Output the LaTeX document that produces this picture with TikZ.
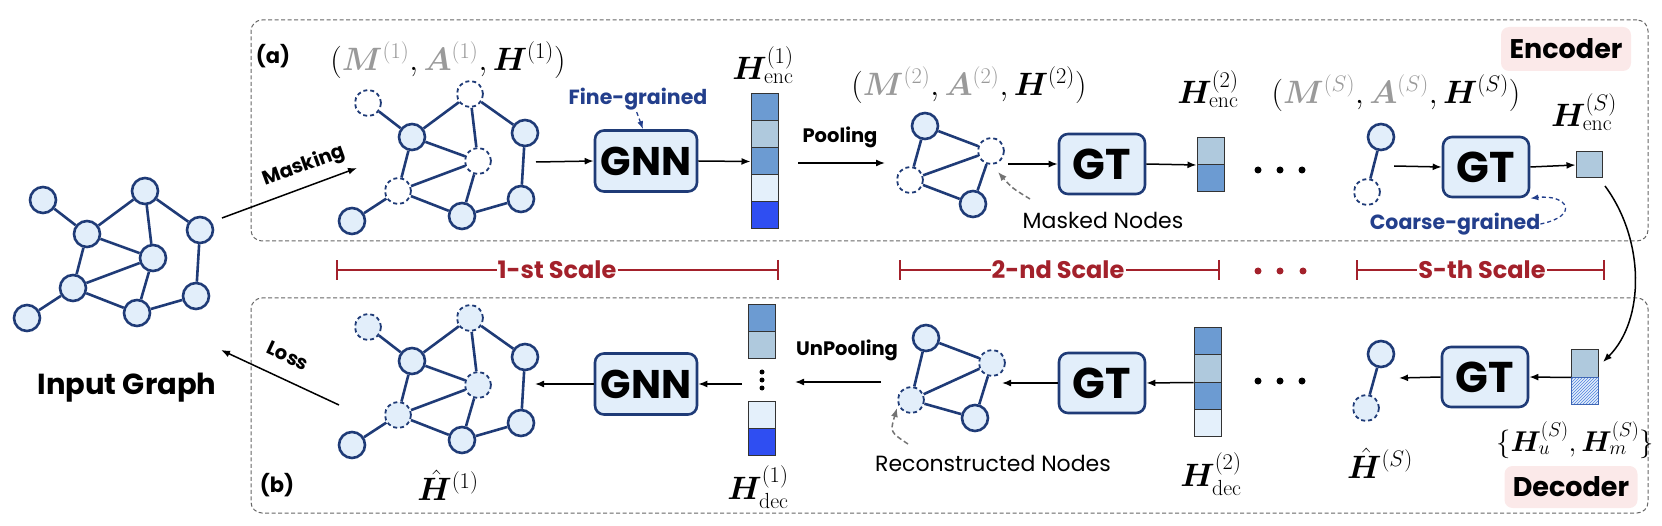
\documentclass[tikz,border=0pt]{standalone}
\usepackage{fontspec}
\usepackage{amsmath,bm}
\newfontfamily\cf{Poppins}
\usetikzlibrary{arrows.meta,patterns}
\definecolor{navy}{HTML}{1F3B77}
\definecolor{nfill}{HTML}{E2EEFA}
\definecolor{cA}{HTML}{6C9BD2}
\definecolor{cB}{HTML}{AFC9DD}
\definecolor{cC}{HTML}{E4F0FB}
\definecolor{cD}{HTML}{2F4EF2}
\definecolor{scred}{HTML}{A3212B}
\definecolor{pinkbg}{HTML}{FBE9E9}
\definecolor{fgblue}{HTML}{233F8C}
\definecolor{tgray}{HTML}{9A9A9A}
\definecolor{hatchc}{HTML}{4F7FE0}
\newcommand\ML[1]{\scalebox{1.3}{$#1$}}
\tikzset{
 gn/.style={circle, draw=navy, line width=2.6pt, fill=nfill, minimum size=26pt, inner sep=0pt},
 gnd/.style={gn, line width=1.8pt, dash pattern=on 4pt off 3pt, fill=white},
 gnf/.style={gnd, fill=nfill},
 gedge/.style={draw=navy, line width=2.6pt},
 box/.style={draw=navy, line width=2.6pt, fill=nfill, rounded corners=9pt, inner sep=0pt, font=\cf\bfseries\fontsize{40}{40}\selectfont},
 gtbox/.style={box, font=\cf\bfseries\fontsize{43}{43}\selectfont},
 cell/.style={draw=black!80, line width=1pt, minimum width=27pt, minimum height=27pt, inner sep=0pt},
 arr/.style={draw=black, line width=1.5pt, -{Latex[length=9pt,width=7pt]}},
 garr/.style={draw=black!55, line width=1.5pt, dash pattern=on 5pt off 3pt, -{Latex[length=9pt,width=7pt]}},
 narr/.style={draw=fgblue, line width=1.3pt, dash pattern=on 4pt off 3pt, -{Latex[length=8pt,width=6pt]}},
 lbl/.style={font=\cf\bfseries\fontsize{19.5}{19.5}\selectfont, inner sep=0pt},
 nlbl/.style={font=\cf\fontsize{22}{22}\selectfont, inner sep=0pt},
 blbl/.style={font=\cf\bfseries\fontsize{20.5}{20.5}\selectfont, text=fgblue, inner sep=0pt},
 mlab/.style={font=\fontsize{24}{26}\selectfont, inner sep=0pt},
 panel/.style={draw=black!60, line width=1pt, dash pattern=on 4pt off 2.5pt, rounded corners=11pt, inner sep=0pt},
 badge/.style={fill=pinkbg, rounded corners=8pt, inner sep=0pt, font=\cf\bfseries\fontsize{27}{27}\selectfont},
 stxt/.style={font=\cf\bfseries\fontsize{24}{24}\selectfont, text=scred, inner xsep=1pt, inner ysep=0pt},
 scl/.style={draw=scred, line width=2pt},
 bdot/.style={circle, fill=black, minimum size=7pt, inner sep=0pt},
 vdot/.style={circle, fill=black, minimum size=5pt, inner sep=0pt},
 rdot/.style={circle, fill=scred, minimum size=7pt, inner sep=0pt},
}
\newcommand\BigGraph[4]{%
 \begin{scope}[shift={(#2,#3)}]
  \node[#4] (#1-1) at (43,200) {};
  \node[gn] (#1-2) at (87,234) {};
  \node[#4] (#1-3) at (145,191) {};
  \node[gn] (#1-4) at (200,230) {};
  \node[#4] (#1-5) at (153,258) {};
  \node[#4] (#1-6) at (73,288) {};
  \node[gn] (#1-7) at (27,318) {};
  \node[gn] (#1-8) at (137,313) {};
  \node[gn] (#1-9) at (196,296) {};
 \end{scope}
 \foreach \a/\b in {1/2,2/3,3/4,3/5,2/5,2/6,6/5,6/7,6/8,5/8,8/9,9/4}
  \draw[gedge] (#1-\a) -- (#1-\b);
}
\begin{document}
\begin{tikzpicture}[x=1pt,y=-1pt]
\useasboundingbox (0,0) rectangle (1662,526);
% panels
\node[panel, minimum width=1397pt, minimum height=221pt] (encP) at (949.5,130.5) {};
\node[panel, minimum width=1397pt, minimum height=215pt] (decP) at (949.5,405.5) {};
\node[font=\cf\bfseries\fontsize{21}{21}\selectfont] (aL) at (273,56) {(a)};
\node[font=\cf\bfseries\fontsize{21}{21}\selectfont] (bL) at (277,485) {(b)};
\node[badge, minimum width=130pt, minimum height=44pt] (encB) at (1566,49) {Encoder};
\node[badge, minimum width=133pt, minimum height=42pt] (decB) at (1571,487) {Decoder};

% big graphs
\BigGraph{in}{0}{0}{gn}
\BigGraph{eg}{325}{-97}{gnd}
\BigGraph{dg}{325}{127}{gnf}
\node[font=\cf\bfseries\fontsize{29}{29}\selectfont] (ig) at (127,388) {Input Graph};

% small graphs
\node[gn] (ep1) at (925,126) {};
\node[gnd] (ep2) at (991,151) {};
\node[gnd] (ep3) at (910,180) {};
\node[gn] (ep4) at (973,204) {};
\foreach \a/\b in {1/2,1/3,3/2,3/4,2/4} \draw[gedge] (ep\a) -- (ep\b);
\node[gn] (dp1) at (926,338) {};
\node[gnf] (dp2) at (992,363) {};
\node[gnf] (dp3) at (911,400) {};
\node[gn] (dp4) at (975,418) {};
\foreach \a/\b in {1/2,1/3,3/2,3/4,2/4} \draw[gedge] (dp\a) -- (dp\b);
\node[gn] (es1) at (1381,137) {};
\node[gnd] (es2) at (1367,192) {};
\draw[gedge] (es1) -- (es2);
\node[gn] (ds1) at (1381,354) {};
\node[gnf] (ds2) at (1366,408) {};
\draw[gedge] (ds1) -- (ds2);

% boxes
\node[box, minimum width=102pt, minimum height=61pt] (gnnE) at (646,161) {GNN};
\node[gtbox, minimum width=86pt, minimum height=60pt] (gtE2) at (1102,164) {GT};
\node[gtbox, minimum width=86pt, minimum height=60pt] (gtES) at (1486,167) {GT};
\node[box, minimum width=102pt, minimum height=61pt] (gnnD) at (646,384) {GNN};
\node[gtbox, minimum width=86pt, minimum height=60pt] (gtD2) at (1102,383) {GT};
\node[gtbox, minimum width=86pt, minimum height=60pt] (gtDS) at (1485,377) {GT};

% vectors encoder
\node[cell, fill=cA] (ev1a) at (764.5,107.5) {};
\node[cell, fill=cB] (ev1b) at (764.5,134.5) {};
\node[cell, fill=cA] (ev1c) at (764.5,161.5) {};
\node[cell, fill=cC] (ev1d) at (764.5,188.5) {};
\node[cell, fill=cD] (ev1e) at (764.5,215.5) {};
\node[cell, fill=cB] (ev2a) at (1210.5,151) {};
\node[cell, fill=cA] (ev2b) at (1210.5,178) {};
\node[cell, fill=cB, minimum width=26pt, minimum height=26pt] (evS) at (1589,165) {};
% vectors decoder
\node[cell, fill=cA] (dv1a) at (761.5,318) {};
\node[cell, fill=cB] (dv1b) at (761.5,345) {};
\node[vdot] (dv1x) at (762,372) {};
\node[vdot] (dv1y) at (762,380) {};
\node[vdot] (dv1z) at (762,388) {};
\node[cell, fill=cC] (dv1c) at (761.5,415) {};
\node[cell, fill=cD] (dv1d) at (761.5,442) {};
\node[cell, fill=cA] (dv2a) at (1207.5,341.5) {};
\node[cell, fill=cB] (dv2b) at (1207.5,368.5) {};
\node[cell, fill=cA] (dv2c) at (1207.5,395.5) {};
\node[cell, fill=cC] (dv2d) at (1207.5,422.5) {};
\node[cell, fill=cB] (dvSa) at (1585,363.5) {};
\node[cell, draw=hatchc!80!black, preaction={fill=cC}, pattern=north east lines, pattern color=hatchc] (dvSb) at (1585,390.5) {};

% dots
\node[bdot] (ed1) at (1258,170) {};
\node[bdot] (ed2) at (1280,170) {};
\node[bdot] (ed3) at (1302,170) {};
\node[bdot] (dd1) at (1258,381) {};
\node[bdot] (dd2) at (1280,381) {};
\node[bdot] (dd3) at (1302,381) {};
\node[rdot] (rd1) at (1258,271) {};
\node[rdot] (rd2) at (1280,271) {};
\node[rdot] (rd3) at (1303,271) {};

% math labels
\node[mlab] (t1) at (448,60) {\ML{(\textcolor{tgray}{\bm{M}^{(1)}},\textcolor{tgray}{\bm{A}^{(1)}},\bm{H}^{(1)})}};
\node[mlab] (t2) at (969,85) {\ML{(\textcolor{tgray}{\bm{M}^{(2)}},\textcolor{tgray}{\bm{A}^{(2)}},\bm{H}^{(2)})}};
\node[mlab] (tS) at (1396,93) {\ML{(\textcolor{tgray}{\bm{M}^{(S)}},\textcolor{tgray}{\bm{A}^{(S)}},\bm{H}^{(S)})}};
\node[mlab] (he1) at (763,65) {\ML{\bm{H}_{\mathrm{enc}}^{(1)}}};
\node[mlab] (he2) at (1208,89) {\ML{\bm{H}_{\mathrm{enc}}^{(2)}}};
\node[mlab] (heS) at (1584,112) {\ML{\bm{H}_{\mathrm{enc}}^{(S)}}};
\node[mlab] (hh1) at (448,485) {\ML{\hat{\bm{H}}^{(1)}}};
\node[mlab] (hd1) at (758,487) {\ML{\bm{H}_{\mathrm{dec}}^{(1)}}};
\node[mlab] (hd2) at (1211,474) {\ML{\bm{H}_{\mathrm{dec}}^{(2)}}};
\node[mlab] (hhS) at (1380,463) {\ML{\hat{\bm{H}}^{(S)}}};
\node[mlab] (hum) at (1575,440) {\scalebox{1.15}{$\{\bm{H}_{u}^{(S)},\bm{H}_{m}^{(S)}\}$}};

% text labels
\node[lbl] (poolL) at (840,137) {Pooling};
\node[lbl] (upoolL) at (847,350) {UnPooling};
\node[blbl] (fgL) at (638,99) {Fine-grained};
\node[blbl] (cgL) at (1455,224) {Coarse-grained};
\node[nlbl] (mnL) at (1103,220) {Masked Nodes};
\node[nlbl] (rnL) at (993,463) {Reconstructed Nodes};

% encoder arrows
\coordinate (mkS) at (222,218);
\coordinate (mkE) at (357,168);
\draw[arr] (mkS) -- (mkE);
\node[lbl, rotate=20] (mkL) at (304,166) {Masking};
\coordinate (g1out) at (536,162);
\draw[arr] (g1out) -- (gnnE.west);
\draw[arr] (gnnE.east) -- (ev1c.west);
\coordinate (poolS) at (798,163);
\coordinate (poolE) at (885,163);
\draw[arr] (poolS) -- (poolE);
\coordinate (g2out) at (1008,164);
\draw[arr] (g2out) -- (gtE2.west);
\draw[arr] (gtE2.east) -- (ev2a.south west);
\coordinate (gSout) at (1394,166);
\draw[arr] (gSout) -- (gtES.west);
\draw[arr] (gtES.east) -- (evS.west);
\draw[narr, shorten <=2pt] ([xshift=-2pt]fgL.south) -- ([xshift=-3pt]gnnE.north);
\coordinate (mnA) at (1030,199);
\draw[garr] (mnA) .. controls (1012,188) .. (998,172);
\draw[narr] (cgL.east) .. controls (1580,216) and (1568,194) .. (gtES.south east);
% encoder to decoder
\coordinate (cvS) at (1605,186);
\coordinate (cvE) at (1603,362);
\draw[arr] (cvS) .. controls (1645,240) and (1645,320) .. (cvE);

% decoder arrows
\draw[arr] (dvSa.south west) -- (gtDS.east);
\coordinate (dSin) at (1399,378);
\draw[arr] (gtDS.west) -- (dSin);
\draw[arr] (dv2b.south west) -- (gtD2.east);
\coordinate (d2in) at (1002,383);
\draw[arr] (gtD2.west) -- (d2in);
\coordinate (upS) at (881,382);
\coordinate (upE) at (795,382);
\draw[arr] (upS) -- (upE);
\coordinate (v1out) at (742,384);
\draw[arr] (v1out) -- (gnnD.east);
\coordinate (d1in) at (535,384);
\draw[arr] (gnnD.west) -- (d1in);
\coordinate (rnA) at (908,444);
\draw[garr] (rnA) .. controls (890,432) .. (897,408);
\coordinate (lsS) at (339,405);
\coordinate (lsE) at (221,350);
\draw[arr] (lsS) -- (lsE);
\node[lbl, rotate=-25] (lsL) at (288,356) {Loss};

% scales
\node[stxt] (s1) at (557,270) {1-st Scale};
\coordinate (s1L) at (336,270);
\coordinate (s1R) at (779,270);
\draw[scl, {Bar[width=20pt]}-] (s1L) -- (s1.west);
\draw[scl, -{Bar[width=20pt]}] (s1.east) -- (s1R);
\node[stxt] (s2) at (1058,270) {2-nd Scale};
\coordinate (s2L) at (899,270);
\coordinate (s2R) at (1220,270);
\draw[scl, {Bar[width=20pt]}-] (s2L) -- (s2.west);
\draw[scl, -{Bar[width=20pt]}] (s2.east) -- (s2R);
\node[stxt] (sS) at (1482,270) {S-th Scale};
\coordinate (sSL) at (1356,270);
\coordinate (sSR) at (1605,270);
\draw[scl, {Bar[width=20pt]}-] (sSL) -- (sS.west);
\draw[scl, -{Bar[width=20pt]}] (sS.east) -- (sSR);
\end{tikzpicture}
\end{document}
